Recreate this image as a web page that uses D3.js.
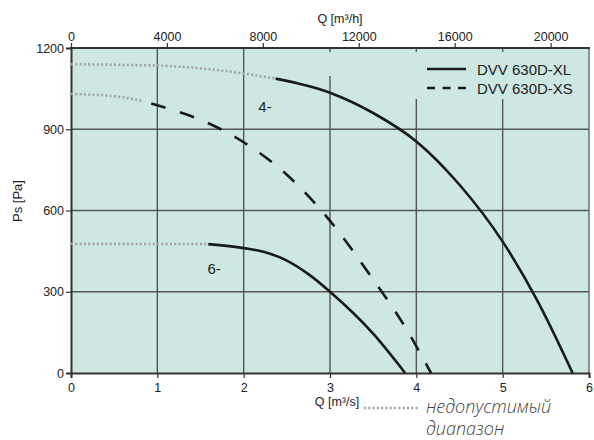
<!DOCTYPE html>
<html><head><meta charset="utf-8">
<script src="https://cdn.jsdelivr.net/npm/d3@7"></script>
<style>
html,body{margin:0;padding:0;background:#fff;}
svg{display:block;font-family:"Liberation Sans",Arial,sans-serif;}
</style></head>
<body>
<svg id="chart" width="594" height="440"></svg>
<script>
// ---- data ----
const xTicks = [0, 1, 2, 3, 4, 5, 6];                 // Q [m³/s]
const xTopTicks = [0, 4000, 8000, 12000, 16000, 20000]; // Q [m³/h]
const yTicks = [0, 300, 600, 900, 1200];               // Ps [Pa]

const xl4Dotted = [[0,1140],[1,1135],[2,1106],[2.37,1087]];
const xl4Solid  = [[2.37,1087],[3,1035],[3.5,960],[4,855],[4.5,695],[5,485],[5.4,268],[5.81,0]];
const xs4Dotted = [[0,1030],[0.5,1022],[0.84,1003]];
const xs4Dashed = [[0.84,1003],[1.11,978],[1.5,935],[2,852],[2.5,732],[3,562],[3.5,345],[3.87,170],[4.17,0]];
const xl6Dotted = [[0,477],[1.59,476]];
const xl6Solid  = [[1.59,476],[2.0,461],[2.25,446],[2.5,415],[2.75,365],[3.0,300],[3.5,145],[3.87,0]];

const legendItems = ["DVV 630D-XL", "DVV 630D-XS"];
const curveLabels = [{q:2.17, p:965, t:"4-"}, {q:1.58, p:365, t:"6-"}];

// ---- drawing ----
const svg = d3.select("#chart");
const L = 71, R = 589, T = 48, B = 373;
const x = d3.scaleLinear().domain([0,6]).range([L,R]);
const xTop = d3.scaleLinear().domain([0,21600]).range([L,R]);
const y = d3.scaleLinear().domain([0,1200]).range([B,T]);
const bg = "#cde8e3";

svg.append("rect").attr("x",L).attr("y",T).attr("width",R-L).attr("height",B-T).attr("fill",bg);

// grid
const grid = svg.append("g");
grid.selectAll("line.v").data(xTicks.filter(d=>d>0&&d<6)).join("line")
  .attr("x1",d=>x(d)).attr("x2",d=>x(d)).attr("y1",T).attr("y2",B)
  .attr("stroke","#555").attr("stroke-width",1.4);
grid.selectAll("line.h").data(yTicks.filter(d=>d>0&&d<1200)).join("line")
  .attr("x1",L).attr("x2",R).attr("y1",d=>y(d)).attr("y2",d=>y(d))
  .attr("stroke","#555").attr("stroke-width",1.4);

// legend background covering grid
svg.append("rect").attr("x",325).attr("y",T+4).attr("width",R-325-1).attr("height",24).attr("fill",bg);
svg.append("rect").attr("x",400).attr("y",T+4).attr("width",R-400-1).attr("height",47).attr("fill",bg);

// border
svg.append("line").attr("x1",R).attr("x2",R).attr("y1",T).attr("y2",B).attr("stroke","#666").attr("stroke-width",1.4);
svg.append("line").attr("x1",L-1).attr("x2",R+1).attr("y1",T).attr("y2",T).attr("stroke","#333").attr("stroke-width",2);

// axes
const axB = svg.append("g").attr("transform",`translate(0,${B})`)
  .call(d3.axisBottom(x).tickValues(xTicks).tickFormat(d3.format("d")).tickSize(5).tickPadding(5));
const axL = svg.append("g").attr("transform",`translate(${L},0)`)
  .call(d3.axisLeft(y).tickValues(yTicks).tickFormat(d3.format("d")).tickSize(5).tickPadding(2));
const axT = svg.append("g").attr("transform",`translate(0,${T})`)
  .call(d3.axisTop(xTop).tickValues(xTopTicks).tickFormat(d3.format("d")).tickSize(5).tickPadding(2));
[axB,axL,axT].forEach(a=>{
  a.selectAll(".domain").attr("stroke","#333").attr("stroke-width",2);
  a.selectAll(".tick line").attr("stroke","#333").attr("stroke-width",1.2);
  a.selectAll("text").attr("font-size",12.5).attr("fill","#222")
   .attr("font-family","'Liberation Sans',Arial,sans-serif");
});
axT.select(".domain").remove();

// axis titles
svg.append("text").attr("x",340).attr("y",23).attr("text-anchor","middle")
  .attr("font-size",12.5).attr("fill","#222").text("Q [m³/h]");
svg.append("text").attr("x",337).attr("y",406).attr("text-anchor","middle")
  .attr("font-size",12.5).attr("fill","#222").text("Q [m³/s]");
svg.append("text").attr("transform","translate(22,201) rotate(-90)").attr("text-anchor","middle")
  .attr("font-size",13).attr("fill","#222").text("Ps [Pa]");

// curves
const line = d3.line().x(d=>x(d[0])).y(d=>y(d[1])).curve(d3.curveMonotoneX);
const curves = svg.append("g").attr("fill","none");
const dotted = (data)=>curves.append("path").attr("d",line(data))
  .attr("stroke","#9fa3a3").attr("stroke-width",2.6).attr("stroke-dasharray","2,2.3");
dotted(xl4Dotted); dotted(xs4Dotted); dotted(xl6Dotted);
curves.append("path").attr("d",line(xl4Solid)).attr("stroke","#1a1a1a").attr("stroke-width",2.6);
curves.append("path").attr("d",line(xl6Solid)).attr("stroke","#1a1a1a").attr("stroke-width",2.6);
curves.append("path").attr("d",line(xs4Dashed)).attr("stroke","#1a1a1a").attr("stroke-width",2.6)
  .attr("stroke-dasharray","15,15").attr("stroke-dashoffset",-8);

// curve labels
svg.selectAll("text.cl").data(curveLabels).join("text")
  .attr("x",d=>x(d.q)).attr("y",d=>y(d.p)).attr("font-size",15).attr("fill","#222").text(d=>d.t);

// legend
const lg = svg.append("g");
lg.append("line").attr("x1",427).attr("x2",466).attr("y1",69).attr("y2",69).attr("stroke","#1a1a1a").attr("stroke-width",2.6);
lg.append("line").attr("x1",427).attr("x2",466).attr("y1",88).attr("y2",88).attr("stroke","#1a1a1a").attr("stroke-width",2.6).attr("stroke-dasharray","8,7.5");
lg.selectAll("text").data(legendItems).join("text")
  .attr("x",477).attr("y",(d,i)=>75+i*19).attr("font-size",15).attr("fill","#222").text(d=>d);

// note
svg.append("line").attr("x1",364).attr("x2",420).attr("y1",408).attr("y2",408)
  .attr("stroke","#9fa3a3").attr("stroke-width",2.6).attr("stroke-dasharray","2,2.3");
const note = svg.append("g").attr("font-family","'Open Sans',sans-serif").attr("font-style","italic")
  .attr("font-weight",300).attr("font-size",18).attr("fill","#444");
note.append("text").attr("x",426).attr("y",413).text("недопустимый");
note.append("text").attr("x",426).attr("y",434.5).text("диапазон");
</script>
</body></html>
